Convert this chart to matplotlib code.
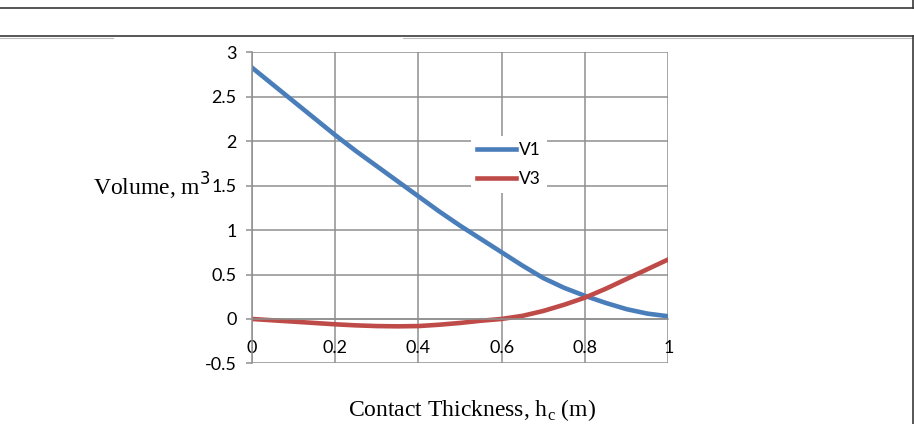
import matplotlib
matplotlib.use('Agg')
import matplotlib.pyplot as plt
from matplotlib.lines import Line2D

# data (every 0.05 m)
hc = [0.0, 0.05, 0.1, 0.15, 0.2, 0.25, 0.3, 0.35, 0.4, 0.45, 0.5,
      0.55, 0.6, 0.65, 0.7, 0.75, 0.8, 0.85, 0.9, 0.95, 1.0]
v1 = [2.83, 2.64, 2.45, 2.26, 2.07, 1.89, 1.72, 1.55, 1.38, 1.21, 1.05,
      0.90, 0.75, 0.60, 0.46, 0.35, 0.26, 0.18, 0.11, 0.06, 0.03]
v3 = [0.0, -0.015, -0.03, -0.045, -0.06, -0.072, -0.08, -0.083, -0.08, -0.065, -0.045,
      -0.02, 0.0, 0.035, 0.09, 0.16, 0.24, 0.34, 0.45, 0.56, 0.67]
xticks = [0, 0.2, 0.4, 0.6, 0.8, 1]
xtick_labels = ['0', '0.2', '0.4', '0.6', '0.8', '1']
yticks = [-0.5, 0, 0.5, 1, 1.5, 2, 2.5, 3]
ytick_labels = ['-0.5', '0', '0.5', '1', '1.5', '2', '2.5', '3']

W, H = 914, 424
fig = plt.figure(figsize=(W / 100, H / 100), dpi=100, facecolor='white')

# page frame lines (table borders around the chart)
dark = '#3a3a3a'
fig.add_artist(Line2D([0, 913.5 / W], [1 - 7.5 / H] * 2, color=dark, lw=1.2))
fig.add_artist(Line2D([0, 913.5 / W], [1 - 36 / H] * 2, color=dark, lw=1.2))
fig.add_artist(Line2D([0, 113 / W], [1 - 37.5 / H] * 2, color='#bbbbbb', lw=0.8))
fig.add_artist(Line2D([403 / W, 913 / W], [1 - 37.5 / H] * 2, color='#bbbbbb', lw=0.8))
fig.add_artist(Line2D([913 / W] * 2, [1, 1 - 7.5 / H], color=dark, lw=1.2))
fig.add_artist(Line2D([913 / W] * 2, [1 - 36 / H, 0], color=dark, lw=1.2))

left, right, top, bottom = 251.7, 668.3, 52.3, 363.4
ax = fig.add_axes([left / W, 1 - bottom / H, (right - left) / W, (bottom - top) / H])

grid_c = '#8f8f8f'
ax.plot(hc, v1, color='#4a7ebb', lw=3.3, label='V1', solid_joinstyle='round')
ax.plot(hc, v3, color='#be4b48', lw=3.3, label='V3', solid_joinstyle='round')

ax.set_xlim(0, 1)
ax.set_ylim(-0.5, 3)
ax.set_xticks(xticks)
ax.set_xticklabels(xtick_labels)
ax.set_yticks(yticks)
ax.set_yticklabels(ytick_labels)
ax.grid(True, color=grid_c, lw=1.1)
ax.set_axisbelow(True)

for s in ['top', 'right']:
    ax.spines[s].set_visible(False)
ax.spines['left'].set_color(grid_c)
ax.spines['left'].set_linewidth(1.1)
ax.spines['bottom'].set_position(('data', 0))
ax.spines['bottom'].set_color(grid_c)
ax.spines['bottom'].set_linewidth(1.1)

tick_font = 'Lato'
ax.tick_params(axis='y', length=4, color=grid_c, width=1.1, pad=7,
               labelsize=13, labelcolor='black')
ax.tick_params(axis='x', length=0, pad=15, labelsize=13, labelcolor='black')
for lab in ax.get_xticklabels() + ax.get_yticklabels():
    lab.set_family(tick_font)

leg = ax.legend(loc='upper left', bbox_to_anchor=(462 / W, 1 - 127 / H),
                bbox_transform=fig.transFigure, frameon=True, fancybox=False,
                edgecolor='none', facecolor='white', framealpha=1,
                handlelength=2.25, handletextpad=0.2, labelspacing=0.75,
                borderpad=0.35, prop={'family': tick_font, 'size': 12.5})

fig.text(211 / W, 1 - 186 / H, 'Volume, m$^3$', ha='right', va='center',
         fontsize=17, family='Liberation Serif')
fig.text(472 / W, 1 - 410 / H, 'Contact Thickness, h$_\\mathregular{c}$ (m)',
         ha='center', va='center', fontsize=17, family='Liberation Serif')

fig.savefig('out.png', dpi=100, facecolor='white')
